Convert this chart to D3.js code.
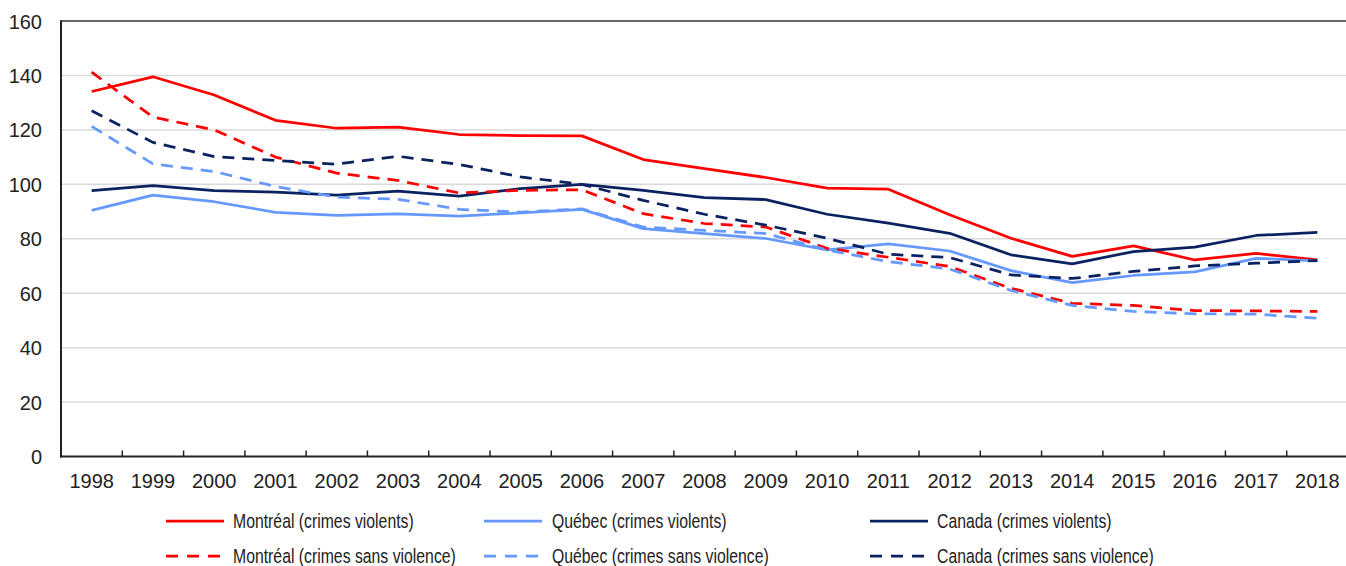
<!DOCTYPE html>
<html>
<head>
<meta charset="utf-8">
<script src="https://cdn.jsdelivr.net/npm/d3@7"></script>
<style>
  html, body { margin: 0; padding: 0; background: #fff; }
  svg { display: block; }
  text { font-family: "Liberation Sans", Arial, sans-serif; fill: #222; }
</style>
</head>
<body>
<svg id="chart" width="1346" height="566"></svg>
<script>
const years = ["1998","1999","2000","2001","2002","2003","2004","2005","2006","2007","2008","2009","2010","2011","2012","2013","2014","2015","2016","2017","2018"];
const montrealViolent    = [134.1,139.5,132.8,123.5,120.6,121.0,118.3,117.9,117.8,109.1,105.8,102.5,98.6,98.2,88.8,80.2,73.5,77.4,72.2,74.6,72.2];
const montrealNonViolent = [141.2,124.7,120.0,110.0,104.1,101.4,96.8,97.8,98.0,89.2,85.6,84.3,76.5,73.2,69.8,61.8,56.3,55.5,53.6,53.5,53.3];
const quebecViolent      = [90.4,96.0,93.6,89.7,88.6,89.1,88.3,89.5,90.8,83.7,81.9,80.1,75.9,78.1,75.5,68.3,63.9,66.5,67.8,72.8,71.9];
const quebecNonViolent   = [121.3,107.5,104.7,99.2,95.3,94.5,90.8,89.8,91.0,84.3,83.1,81.9,75.9,71.6,68.9,61.0,55.5,53.3,52.4,52.3,50.8];
const canadaViolent      = [97.7,99.5,97.7,97.1,96.0,97.5,95.7,98.4,100.0,97.8,95.1,94.4,89.0,85.7,82.0,74.1,70.8,75.3,76.9,81.2,82.3];
const canadaNonViolent   = [127.0,115.4,110.2,108.8,107.4,110.3,107.3,102.7,100.0,94.1,89.0,85.0,80.2,74.3,73.1,66.7,65.4,68.0,70.0,71.0,72.0];
const yTicks = [0,20,40,60,80,100,120,140,160];
const seriesNames = ["Montréal (crimes violents)","Québec (crimes violents)","Canada (crimes violents)",
                     "Montréal (crimes sans violence)","Québec (crimes sans violence)","Canada (crimes sans violence)"];

const RED = "#ff0000", LBLUE = "#6699ff", NAVY = "#0b2260";
const series = [
  {name: seriesNames[0], values: montrealViolent, color: RED, dash: null},
  {name: seriesNames[1], values: quebecViolent, color: LBLUE, dash: null},
  {name: seriesNames[2], values: canadaViolent, color: NAVY, dash: null},
  {name: seriesNames[3], values: montrealNonViolent, color: RED, dash: "12,8"},
  {name: seriesNames[4], values: quebecNonViolent, color: LBLUE, dash: "12,8"},
  {name: seriesNames[5], values: canadaNonViolent, color: NAVY, dash: "12,8"}
];

const svg = d3.select("#chart");
const pLeft = 61, pRight = 1348, pTop = 21, pBottom = 456.5;
const x = d3.scaleBand().domain(years).range([pLeft, pRight]).paddingInner(0).paddingOuter(0);
const y = d3.scaleLinear().domain([0,160]).range([pBottom, pTop]);
const cx = d => x(d) + x.bandwidth()/2;

// gridlines
svg.append("g").selectAll("line").data(yTicks.filter(t => t > 0 && t < 160)).join("line")
  .attr("x1", pLeft).attr("x2", pRight).attr("y1", d => y(d)).attr("y2", d => y(d))
  .attr("stroke", "#d9d9d9").attr("stroke-width", 1.5);

// top border
svg.append("line").attr("x1", pLeft).attr("x2", pRight).attr("y1", y(160)).attr("y2", y(160))
  .attr("stroke", "#333").attr("stroke-width", 1.5);

// y axis labels
const yAxis = d3.axisLeft(y).tickValues(yTicks).tickSize(0).tickPadding(19).tickFormat(d3.format("d"));
const gy = svg.append("g").attr("transform", `translate(${pLeft},0)`).call(yAxis);
gy.select(".domain").remove();
gy.selectAll("text").attr("font-size", 20).attr("dy", "0.35em")
  .style("font-family", '"Liberation Sans", sans-serif').attr("fill", "#222");

// x axis labels
const xAxis = d3.axisBottom(x).tickSize(0).tickPadding(0);
const gx = svg.append("g").attr("transform", `translate(0,${pBottom})`).call(xAxis);
gx.select(".domain").remove();
gx.selectAll("text").attr("font-size", 20).attr("dy", "0").attr("y", 31)
  .style("font-family", '"Liberation Sans", sans-serif').attr("fill", "#222");

// x boundary ticks (inward)
svg.append("g").selectAll("line").data(years.slice(1)).join("line")
  .attr("x1", d => x(d)).attr("x2", d => x(d)).attr("y1", pBottom).attr("y2", pBottom - 6)
  .attr("stroke", "#222").attr("stroke-width", 1.5);

// lines
const line = d3.line().x((d,i) => cx(years[i])).y(d => y(d));
svg.append("g").selectAll("path").data(series).join("path")
  .attr("d", d => line(d.values))
  .attr("fill", "none").attr("stroke", d => d.color).attr("stroke-width", 2.75)
  .attr("stroke-dasharray", d => d.dash).attr("stroke-linejoin", "round");

// axes lines
svg.append("line").attr("x1", pLeft).attr("x2", pLeft).attr("y1", pTop - 0.75).attr("y2", pBottom + 1)
  .attr("stroke", "#222").attr("stroke-width", 2);
svg.append("line").attr("x1", pLeft - 1).attr("x2", pRight).attr("y1", pBottom).attr("y2", pBottom)
  .attr("stroke", "#222").attr("stroke-width", 2);

// legend
const legendPos = [
  {lx: 166, tx: 233, ly: 521}, {lx: 484, tx: 552, ly: 521}, {lx: 870, tx: 937, ly: 521},
  {lx: 166, tx: 233, ly: 556}, {lx: 484, tx: 552, ly: 556}, {lx: 870, tx: 937, ly: 556}
];
const lg = svg.append("g").selectAll("g").data(series).join("g");
lg.append("line")
  .attr("x1", (d,i) => legendPos[i].lx).attr("x2", (d,i) => legendPos[i].lx + 58)
  .attr("y1", (d,i) => legendPos[i].ly).attr("y2", (d,i) => legendPos[i].ly)
  .attr("stroke", d => d.color).attr("stroke-width", 2.75)
  .attr("stroke-dasharray", d => d.dash ? "12,9" : null);
lg.append("text")
  .attr("x", (d,i) => legendPos[i].tx).attr("y", (d,i) => legendPos[i].ly)
  .attr("dy", "0.35em").attr("font-size", 20.5).text(d => d.name)
  .each(function() {
    const w = this.getComputedTextLength();
    d3.select(this).attr("textLength", w * 0.77).attr("lengthAdjust", "spacingAndGlyphs");
  });
</script>
</body>
</html>
